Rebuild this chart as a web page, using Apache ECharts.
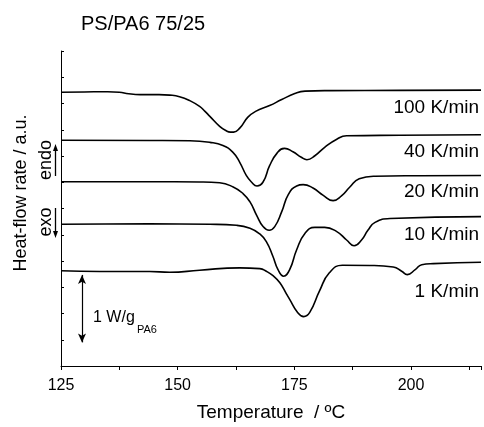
<!DOCTYPE html>
<html>
<head>
<meta charset="utf-8">
<script src="https://cdn.jsdelivr.net/npm/echarts@6/dist/echarts.min.js"></script>
<style>html,body{margin:0;padding:0;background:#fff}#c{width:484px;height:427px}</style>
</head>
<body>
<div id="c"></div>
<script>
// Temperature (°C) and heat-flow (a.u., offset) for each heating rate
const T100 = [125, 130, 135, 137.5, 139.5, 142, 146, 148.3, 150.4, 152.6, 154.7, 155.8, 156.9, 159, 160.5, 161.3, 162, 163.3, 165, 166.7, 169.7, 172.3, 175.1, 177.3, 182.6, 197.6, 215];
const V100 = [10.43, 10.44, 10.45, 10.43, 10.37, 10.34, 10.34, 10.32, 10.26, 10.11, 9.89, 9.71, 9.51, 9.13, 8.95, 8.91, 8.91, 9.06, 9.47, 9.70, 9.92, 10.15, 10.38, 10.47, 10.49, 10.50, 10.51];
const T40 = [125, 144, 152.6, 156.9, 159.7, 161.8, 163.3, 164.7, 165.8, 167.0, 168.3, 169.7, 171.3, 172.9, 174.7, 176.5, 177.7, 179.4, 181.5, 184.1, 186.2, 197.6, 215];
const V40 = [8.60, 8.59, 8.58, 8.52, 8.40, 8.15, 7.76, 7.26, 7.01, 6.86, 7.01, 7.63, 8.11, 8.29, 8.16, 7.95, 7.86, 8.01, 8.33, 8.64, 8.77, 8.79, 8.81];
const T20 = [125, 144, 154.7, 159, 161.9, 164, 165.5, 166.9, 168.3, 169.6, 170.8, 172.3, 173.7, 175.5, 176.9, 179, 181.2, 183.3, 185.1, 186.9, 188.9, 192.3, 201.9, 215];
const V20 = [7.02, 7.02, 7.01, 6.98, 6.82, 6.57, 6.25, 5.75, 5.31, 5.17, 5.31, 5.88, 6.53, 6.86, 6.91, 6.78, 6.50, 6.30, 6.48, 6.82, 7.13, 7.23, 7.25, 7.26];
const T10 = [125, 144, 156.9, 162.6, 165.5, 167.6, 169.0, 170.4, 171.5, 172.7, 174.0, 175.5, 177.3, 179.4, 181.5, 184.1, 186.2, 187.8, 189.4, 190.8, 192.3, 195.5, 215];
const V10 = [5.40, 5.42, 5.40, 5.36, 5.25, 5.03, 4.74, 4.18, 3.67, 3.42, 3.67, 4.43, 5.06, 5.28, 5.28, 5.12, 4.80, 4.58, 4.80, 5.18, 5.47, 5.62, 5.69];
const T1 = [125, 133.3, 144, 148.3, 154.7, 163.3, 167.6, 169.0, 170.5, 171.9, 173.3, 174.0, 175.7, 177.0, 178.3, 180.4, 182.5, 185.3, 191.2, 196.2, 198.0, 199.2, 200.9, 202.3, 204.8, 215];
const V1 = [3.63, 3.60, 3.60, 3.57, 3.65, 3.74, 3.71, 3.61, 3.43, 3.17, 2.75, 2.54, 2.04, 1.88, 2.04, 2.86, 3.55, 3.84, 3.83, 3.77, 3.61, 3.48, 3.67, 3.86, 3.90, 3.95];
const rateLabels = ['100 K/min', '40 K/min', '20 K/min', '10 K/min', '1 K/min'];
const xTicks = [125, 150, 175, 200];
const scaleBarT = 129.5;
const scaleBarV = [0.9, 3.47];

const FONT = "'Liberation Sans', Arial, sans-serif";
const zip = (a, b) => a.map((t, i) => [t, b[i]]);
const curves = [zip(T100, V100), zip(T40, V40), zip(T20, V20), zip(T10, V10), zip(T1, V1)];

const chart = echarts.init(document.getElementById('c'), null, {renderer: 'canvas'});
const series = curves.map((d, i) => ({
  type: 'line', name: rateLabels[i], data: d, showSymbol: false, smooth: 0.5,
  lineStyle: {color: '#000', width: 1.6}, itemStyle: {color: '#000'}, silent: true
}));
series[4].markLine = {
  silent: true, symbol: ['arrow', 'arrow'], symbolSize: [6, 9],
  lineStyle: {color: '#000', width: 1.2, type: 'solid'}, label: {show: false},
  data: [[{coord: [scaleBarT, scaleBarV[0]]}, {coord: [scaleBarT, scaleBarV[1]]}]]
};

const labelY = [108, 152, 192, 235, 292];
const graphic = [
  {type: 'text', x: 21, y: 193, rotation: Math.PI / 2,
   style: {text: 'Heat-flow rate / a.u.', font: '18px ' + FONT, fill: '#000', align: 'center', verticalAlign: 'middle'}},
  {type: 'text', x: 46, y: 160, rotation: Math.PI / 2,
   style: {text: 'endo', font: '18px ' + FONT, fill: '#000', align: 'center', verticalAlign: 'middle'}},
  {type: 'text', x: 46, y: 222, rotation: Math.PI / 2,
   style: {text: 'exo', font: '18px ' + FONT, fill: '#000', align: 'center', verticalAlign: 'middle'}},
  {type: 'line', shape: {x1: 55.5, y1: 176, x2: 55.5, y2: 149}, style: {stroke: '#000', lineWidth: 1.3}},
  {type: 'polygon', shape: {points: [[55.5, 144], [53, 151], [58, 151]]}, style: {fill: '#000'}},
  {type: 'line', shape: {x1: 55.5, y1: 208, x2: 55.5, y2: 233}, style: {stroke: '#000', lineWidth: 1.3}},
  {type: 'polygon', shape: {points: [[55.5, 238], [53, 231], [58, 231]]}, style: {fill: '#000'}},
  {type: 'text', x: 93, y: 318,
   style: {text: '1 W/g', font: '16px ' + FONT, fill: '#000', align: 'left', verticalAlign: 'middle'}},
  {type: 'text', x: 137, y: 330,
   style: {text: 'PA6', font: '11px ' + FONT, fill: '#000', align: 'left', verticalAlign: 'middle'}}
].concat(rateLabels.map((s, i) => ({
  type: 'text', x: 479, y: labelY[i],
  style: {text: s, font: '19px ' + FONT, fill: '#000', align: 'right', verticalAlign: 'middle'}
})));

chart.setOption({
  animation: false,
  backgroundColor: '#fff',
  title: {text: 'PS/PA6 75/25', left: 76, top: 9,
    textStyle: {fontFamily: FONT, fontSize: 20, fontWeight: 'normal', color: '#000'}},
  grid: {left: 61, top: 51, width: 420, height: 318, containLabel: false},
  xAxis: {
    type: 'value', min: 125, max: 215, interval: 25,
    name: 'Temperature  / ºC', nameLocation: 'middle', nameGap: 37,
    nameTextStyle: {fontFamily: FONT, fontSize: 19, color: '#000'},
    axisLine: {show: true, lineStyle: {color: '#000', width: 1}},
    axisTick: {show: true, inside: false, length: 4, lineStyle: {color: '#000'}},
    minorTick: {show: true, splitNumber: 2, length: 4, lineStyle: {color: '#000'}},
    splitLine: {show: false},
    axisLabel: {fontFamily: FONT, fontSize: 16, color: '#000', margin: 12,
      formatter: v => xTicks.includes(v) ? String(v) : ''}
  },
  yAxis: {
    type: 'value', min: 0, max: 12, interval: 1,
    axisLine: {show: true, lineStyle: {color: '#000', width: 1}},
    axisTick: {show: true, inside: true, length: 3, lineStyle: {color: '#000'}},
    axisLabel: {show: false}, splitLine: {show: false}
  },
  series: series,
  graphic: graphic
});
</script>
</body>
</html>
